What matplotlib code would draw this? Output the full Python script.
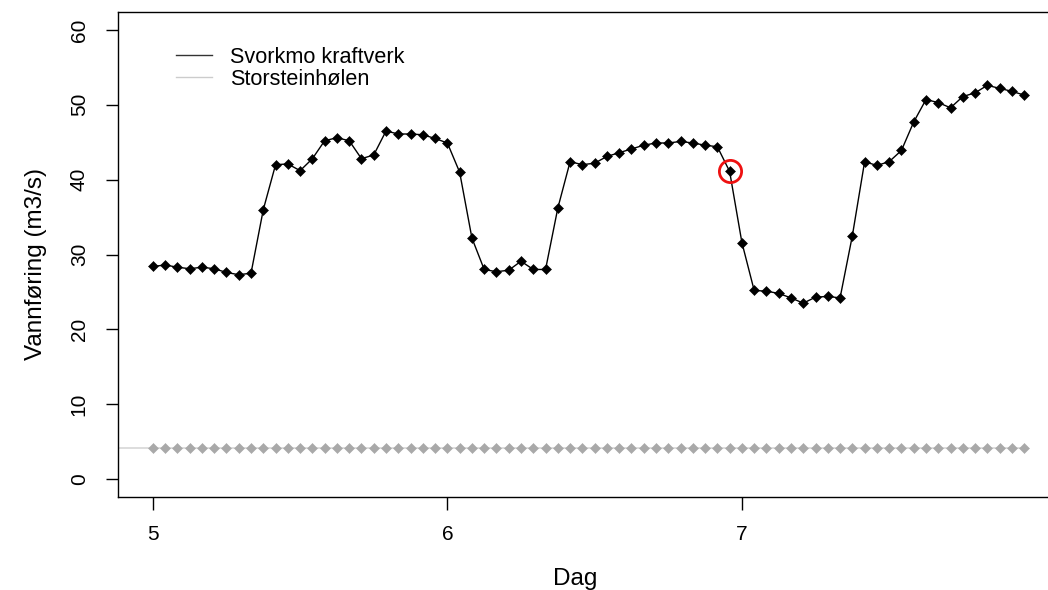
import numpy as np
import matplotlib
matplotlib.use("Agg")
import matplotlib.pyplot as plt
from matplotlib.lines import Line2D

plt.rcParams['font.family'] = ['Liberation Sans', 'DejaVu Sans']

# Hourly discharge, day 5 00:00 onwards (m3/s)
svorkmo = [28.4, 28.6, 28.3, 28.1, 28.3, 28.1, 27.6, 27.3, 27.5, 36.0,
           42.0, 42.1, 41.2, 42.8, 45.2, 45.6, 45.2, 42.8, 43.3, 46.5,
           46.1, 46.1, 46.0, 45.5, 44.9, 41.0, 32.2, 28.0, 27.7, 27.9,
           29.1, 28.0, 28.0, 36.2, 42.4, 42.0, 42.2, 43.1, 43.6, 44.1,
           44.6, 44.9, 44.9, 45.1, 44.9, 44.6, 44.4, 41.1, 31.6, 25.2,
           25.1, 24.8, 24.2, 23.5, 24.3, 24.4, 24.2, 32.5, 42.4, 41.9,
           42.4, 43.9, 47.7, 50.7, 50.3, 49.6, 51.1, 51.6, 52.6, 52.2,
           51.8, 51.3]
start_day = 5
# Storsteinhølen: constant flow, series begins a few hours before day 5
storstein_lead_hours = 3
storstein_level = 4.15
highlight_index = 47   # hour flagged in the series

labels = ["Svorkmo kraftverk", "Storsteinhølen"]
xticks = [5, 6, 7]
yticks = [0, 10, 20, 30, 40, 50, 60]

days = start_day + np.arange(len(svorkmo)) / 24.0
n_storstein = len(svorkmo) + storstein_lead_hours
days_storstein = start_day + (np.arange(n_storstein) - storstein_lead_hours) / 24.0
storstein = np.full(n_storstein, storstein_level)

W, H, DPI = 1048, 590, 100
fig = plt.figure(figsize=(W / DPI, H / DPI), dpi=DPI)
left, right, top, bottom = 118, 1059, 12, 497
ax = fig.add_axes([left / W, 1 - bottom / H, (right - left) / W, (bottom - top) / H])

ax.plot(days_storstein, storstein, color='#d3d3d3', lw=1.1,
        marker='D', ms=5.5, mfc='#a9a9a9', mec='#a9a9a9', mew=0.4,
        markevery=list(range(storstein_lead_hours, n_storstein)), zorder=2)
ax.plot(days, svorkmo, color='black', lw=1.0,
        marker='D', ms=5.6, mfc='black', mec='black', mew=0.4, zorder=3)
ax.plot(days[highlight_index], svorkmo[highlight_index], marker='o', ms=16,
        mfc='none', mec='#ee1111', mew=2.0, zorder=4)

span = days[-1] - days[0]
ax.set_xlim(days[0] - 0.04 * span, days[-1] + 0.04 * span)
ax.set_ylim(-0.04 * 60, 60 * 1.04)
ax.set_xticks(xticks)
ax.set_yticks(yticks)
ax.set_xticklabels([str(t) for t in xticks])
ax.set_yticklabels([str(t) for t in yticks], rotation=90, va='center')

for s in ax.spines.values():
    s.set_linewidth(1.0)
ax.tick_params(axis='both', direction='out', length=9, width=1.0,
               labelsize=15, colors='black')
ax.tick_params(axis='y', pad=12)
ax.tick_params(axis='x', pad=11)

ax.set_xlabel("Dag", fontsize=17.5)
ax.set_ylabel("Vannføring (m3/s)", fontsize=17.5)
ax.xaxis.set_label_coords((575 - left) / (right - left), -(579 - bottom) / (bottom - top))
ax.xaxis.label.set_va('center')
ax.yaxis.set_label_coords((36 - left) / (right - left), (bottom - 264) / (bottom - top))
ax.yaxis.label.set_va('center')

handles = [Line2D([], [], color='#333333', lw=1.0),
           Line2D([], [], color='#cccccc', lw=1.0)]
leg = ax.legend(handles, labels, loc='upper left', frameon=False, fontsize=15.6,
                handlelength=1.68, handletextpad=0.85, labelspacing=0.05,
                borderaxespad=0,
                bbox_to_anchor=((167 - left) / (right - left), (bottom - 38) / (bottom - top)))

fig.savefig("out.png", dpi=DPI)
